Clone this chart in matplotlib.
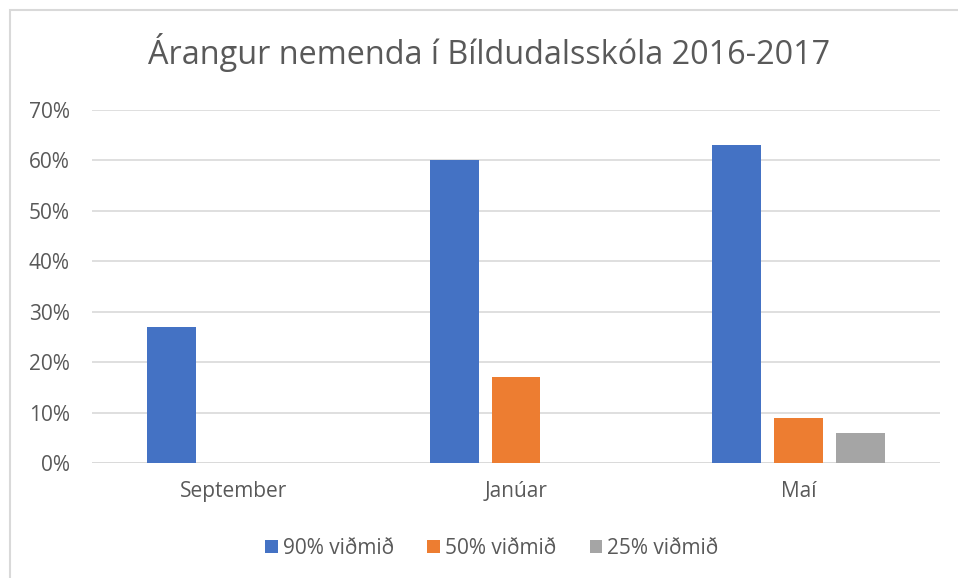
import matplotlib
matplotlib.use('Agg')
import matplotlib.pyplot as plt
import numpy as np
from matplotlib.patches import Rectangle

categories = ['September', 'Janúar', 'Maí']
series_names = ['90% viðmið', '50% viðmið', '25% viðmið']
v90 = [0.27, 0.60, 0.63]
v50 = [0.0, 0.17, 0.09]
v25 = [0.0, 0.0, 0.06]
colors = ['#4472C4', '#ED7D31', '#A5A5A5']
yticks = [0, 0.1, 0.2, 0.3, 0.4, 0.5, 0.6, 0.7]

plt.rcParams['font.family'] = ['Open Sans', 'DejaVu Sans']
txt = '#595959'

fig = plt.figure(figsize=(9.58, 5.78), dpi=100)
ax = fig.add_axes([92 / 958, 1 - 463 / 578, 848 / 958, 353 / 578])

# chart border (only top and left visible in the reference)
fig.patches.append(Rectangle((9.5 / 958, -0.1), 1.2, 1 - 10.5 / 578 + 0.1,
                             transform=fig.transFigure, fill=False,
                             edgecolor='#d9d9d9', linewidth=1.5))

x = np.arange(len(categories))
width = 0.173
step = 0.219
for i, (vals, name) in enumerate(zip([v90, v50, v25], series_names)):
    ax.bar(x + (i - 1) * step, vals, width, color=colors[i], label=name, zorder=3)

ax.set_xlim(-0.5, 2.5)
ax.set_ylim(0, 0.7)
ax.set_yticks(yticks)
ax.set_yticklabels([f'{int(round(t * 100))}%' for t in yticks])
ax.set_xticks(x)
ax.set_xticklabels(categories)
ax.tick_params(axis='both', length=0, labelsize=15, colors=txt)
ax.tick_params(axis='y', pad=16)
ax.tick_params(axis='x', pad=13)
ax.yaxis.grid(True, color='#d9d9d9', linewidth=1.2, zorder=0)
for s in ax.spines.values():
    s.set_visible(False)
ax.axhline(0, color='#d9d9d9', linewidth=1.2, zorder=1)

fig.text(489 / 958, 1 - 52 / 578, 'Árangur nemenda í Bíldudalsskóla 2016-2017',
         ha='center', va='center', fontsize=23.3, color=txt)

fig.legend(loc='center', bbox_to_anchor=(492 / 958, 1 - 548 / 578), ncol=3,
           frameon=False, fontsize=15, labelcolor=txt, handlelength=0.6,
           handleheight=0.6, handletextpad=0.25, columnspacing=1.6)

fig.savefig('out.png', dpi=100)
